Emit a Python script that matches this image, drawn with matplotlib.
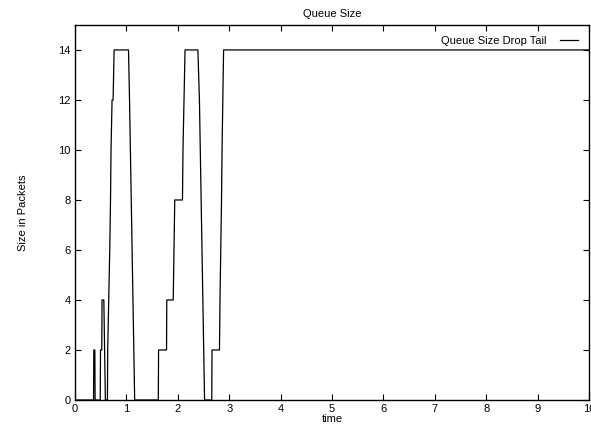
import matplotlib
matplotlib.use('Agg')
import matplotlib.pyplot as plt

# queue trace (time, packets in queue)
times = [0.0, 0.36, 0.365, 0.385, 0.39,
         0.49, 0.495, 0.52, 0.525, 0.56, 0.59,
         0.63, 0.635, 0.655, 0.675, 0.69, 0.70, 0.72, 0.74, 0.76,
         1.04, 1.06, 1.16,
         1.62, 1.625, 1.78, 1.785, 1.91, 1.925, 1.94,
         2.09, 2.10, 2.12, 2.14, 2.39, 2.42, 2.52,
         2.66, 2.665, 2.81, 2.82, 2.835, 2.85, 2.86, 2.875, 2.89,
         10.0]
sizes = [0, 0, 2, 2, 0,
         0, 2, 2, 4, 4, 0,
         0, 2, 4, 6, 8, 10, 12, 12, 14,
         14, 12, 0,
         0, 2, 2, 4, 4, 6, 8,
         8, 10, 12, 14, 14, 12, 0,
         0, 2, 2, 4, 6, 8, 10, 12, 14,
         14]

xticks = list(range(0, 11))
yticks = list(range(0, 15, 2))

plt.rcParams['font.family'] = 'Liberation Sans'
plt.rcParams['font.size'] = 8

fig = plt.figure(figsize=(5.91, 4.30), dpi=100)
ax = fig.add_axes([0.127, 0.0698, 0.8696, 0.8722])

ax.plot(times, sizes, color='black', linewidth=0.9, label='Queue Size Drop Tail')

ax.set_xlim(0, 10)
ax.set_ylim(0, 15)
ax.set_xticks(xticks)
ax.set_yticks(yticks)
ax.tick_params(direction='in', top=True, right=True, length=4, width=0.8, pad=3)
for s in ax.spines.values():
    s.set_linewidth(1.0)

ax.set_title('Queue Size', fontsize=8, pad=6)
ax.set_xlabel('time', labelpad=0)
ax.set_ylabel('Size in Packets', labelpad=22)

ax.legend(loc='upper right', frameon=False, markerfirst=False, handlelength=1.6,
          handletextpad=1.2, borderaxespad=0.6, fontsize=8)

fig.savefig('out.png', dpi=100)
